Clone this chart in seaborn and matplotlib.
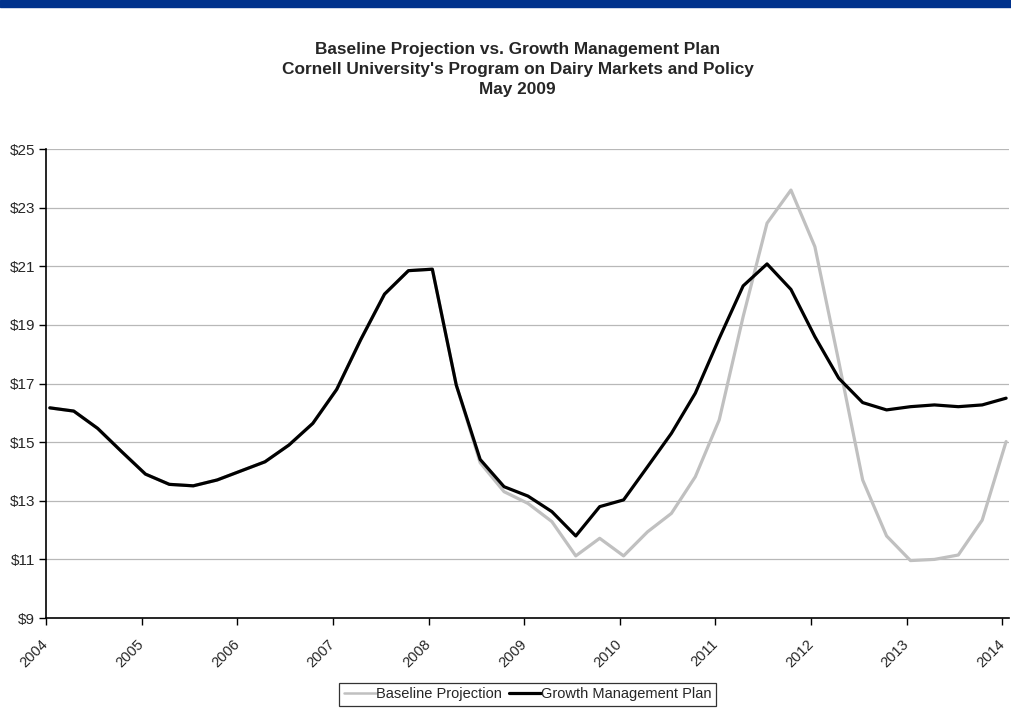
import numpy as np
import pandas as pd
import matplotlib
matplotlib.use("Agg")
import matplotlib.pyplot as plt
from matplotlib.lines import Line2D
import seaborn as sns

# Quarterly observations, 2004 Q1 through 2014 Q1
years = [2004 + 0.25 * i + 0.04 for i in range(41)]

baseline = [16.17, 16.06, 15.47, 14.68, 13.91, 13.56, 13.51, 13.71, 14.02, 14.33,
            14.90, 15.64, 16.80, 18.49, 20.05, 20.85, 20.90, 16.95, 14.30, 13.31,
            12.91, 12.29, 11.12, 11.72, 11.12, 11.94, 12.57, 13.82, 15.76, 19.28,
            22.47, 23.60, 21.67, 17.75, 13.71, 11.80, 10.96, 11.00, 11.15, 12.34,
            15.02]

growth_plan = [16.17, 16.06, 15.47, 14.68, 13.91, 13.56, 13.51, 13.71, 14.02, 14.33,
               14.90, 15.64, 16.80, 18.49, 20.05, 20.85, 20.90, 16.95, 14.41, 13.48,
               13.16, 12.63, 11.80, 12.80, 13.03, 14.16, 15.30, 16.67, 18.54, 20.33,
               21.08, 20.21, 18.60, 17.18, 16.35, 16.10, 16.21, 16.27, 16.21, 16.27,
               16.50]

series_names = ["Baseline Projection", "Growth Management Plan"]
series_colors = ["#c0c0c0", "#000000"]

y_ticks = list(range(9, 26, 2))
x_ticks = list(range(2004, 2015))

df = pd.DataFrame({
    "year": years * 2,
    "price": baseline + growth_plan,
    "series": [series_names[0]] * len(years) + [series_names[1]] * len(years),
})

sns.set_style("white")
plt.rcParams["font.family"] = ["Liberation Sans", "DejaVu Sans"]

fig = plt.figure(figsize=(10.11, 7.13), dpi=100)
ax = fig.add_axes([0.0455, 0.1332, 0.9525, 0.6578])

# horizontal grid behind the lines
for v in y_ticks[1:]:
    ax.axhline(v, color="#b8b8b8", lw=0.9, zorder=0)

sns.lineplot(data=df, x="year", y="price", hue="series",
             palette=dict(zip(series_names, series_colors)),
             hue_order=series_names, linewidth=2.3, ax=ax, legend=False,
             zorder=3)

ax.set_xlim(2004, 2014.07)
ax.set_ylim(9, 25)
ax.set_yticks(y_ticks)
ax.set_yticklabels([f"${v}" for v in y_ticks], fontsize=11)
ax.set_xticks(x_ticks)
ax.set_xticklabels([str(x) for x in x_ticks], fontsize=10.5, rotation=45,
                   ha="right", va="center", rotation_mode="anchor")
ax.set_xlabel("")
ax.set_ylabel("")
ax.tick_params(axis="both", direction="out", length=5, width=1, color="black",
               left=True, bottom=True, pad=3)
ax.tick_params(axis="x", pad=12)

for side in ["top", "right"]:
    ax.spines[side].set_visible(False)
for side in ["left", "bottom"]:
    ax.spines[side].set_color("black")
    ax.spines[side].set_linewidth(1.2)

# legend below the plot
handles = [Line2D([], [], color=c, lw=2.3 if c == "#000000" else 1.8)
           for c in series_colors]
leg = fig.legend(handles, series_names, loc="center", ncol=2,
                 bbox_to_anchor=(0.522, 0.026), fontsize=10.5, frameon=True,
                 fancybox=False, edgecolor="black", handlelength=2.2,
                 handletextpad=0.0, columnspacing=0.5, borderpad=0.3,
                 borderaxespad=0)
leg.get_frame().set_linewidth(0.9)

# title block
fig.text(0.512, 0.902, "Baseline Projection vs. Growth Management Plan\n"
         "Cornell University's Program on Dairy Markets and Policy\nMay 2009",
         ha="center", va="center", fontsize=12.4, fontweight="bold",
         linespacing=1.42)

# navy banner across the top
fig.patches.append(plt.Rectangle((0, 1 - 7 / 713), 1, 7 / 713,
                                 transform=fig.transFigure, color="#00328C",
                                 zorder=0))

fig.savefig("out.png", dpi=100)
